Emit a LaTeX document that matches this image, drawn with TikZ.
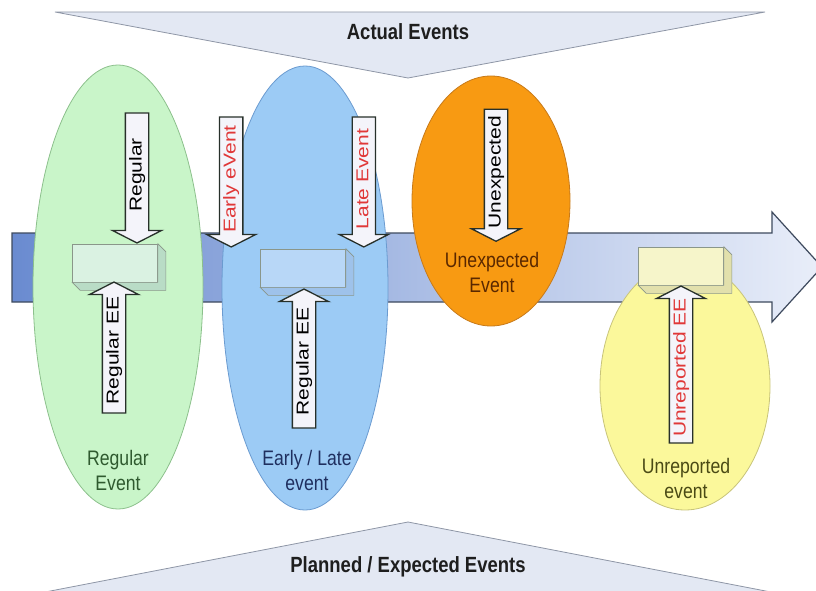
\documentclass[tikz,border=0pt]{standalone}
\usepackage{fontspec}
\setmainfont{Liberation Sans}[FakeStretch=0.84]
\newfontfamily\tagfont{Liberation Sans}
\usetikzlibrary{positioning, shapes.geometric, shapes.arrows}

\definecolor{shaftleft}{HTML}{6A8BD0}
\definecolor{shaftright}{HTML}{E9EEF9}
\definecolor{shaftline}{HTML}{3E4A5E}
\definecolor{wedgefill}{HTML}{E3E8F3}
\definecolor{wedgeline}{HTML}{8E96A6}
\definecolor{gfill}{HTML}{C9F5C9}
\definecolor{gline}{HTML}{8CC08C}
\definecolor{gbox}{HTML}{DAF2E2}
\definecolor{gside}{HTML}{B9DCC6}
\definecolor{gtext}{HTML}{2F5A2F}
\definecolor{bfill}{HTML}{9CCBF5}
\definecolor{bline}{HTML}{6B9BD0}
\definecolor{bbox}{HTML}{B8D7F7}
\definecolor{bside}{HTML}{9EC2EA}
\definecolor{btext}{HTML}{1F2F5F}
\definecolor{ofill}{HTML}{F89A12}
\definecolor{oline}{HTML}{C77A1A}
\definecolor{otext}{HTML}{5A2800}
\definecolor{yfill}{HTML}{FBF89B}
\definecolor{yline}{HTML}{C8C47A}
\definecolor{ybox}{HTML}{F6F5CA}
\definecolor{yside}{HTML}{E2E0AC}
\definecolor{ytext}{HTML}{4A4A15}
\definecolor{boxline}{HTML}{8A968A}
\definecolor{arrline}{HTML}{27302A}
\definecolor{arrfill}{HTML}{F4F4FA}
\definecolor{redtag}{HTML}{E03838}
\definecolor{titletext}{HTML}{1E1E1E}

\newcommand{\vtag}[1]{\scalebox{1}[0.82]{#1}}

\begin{document}
\begin{tikzpicture}[x=1pt, y=-1pt,
		evoval/.style={ellipse, draw, line width=0.8pt, inner sep=0pt},
		evbox/.style={rectangle, draw=boxline, line width=0.6pt, minimum width=85pt, minimum height=38pt, inner sep=0pt},
		evarrow/.style={single arrow, draw=arrline, fill=arrfill, line width=1.3pt, rotate=90, inner xsep=2pt, inner ysep=2.5pt, text height=13pt, text depth=4pt, single arrow head extend=13pt, single arrow tip angle=126, minimum width=0pt, font=\tagfont\fontsize{21}{21}\selectfont},
		downarr/.style={evarrow, shape border rotate=180},
		uparr/.style={evarrow},
		evlabel/.style={align=center, font=\fontsize{21}{25}\selectfont},
		title/.style={font=\bfseries\fontsize{22}{22}\selectfont, text=titletext},
		wedge/.style={fill=wedgefill, draw=wedgeline, line width=0.8pt}
	]
	\useasboundingbox (0,0) rectangle (816,591);

	% time line
	\path[draw=shaftline, line width=1.2pt, left color=shaftleft, right color=shaftright]
		(12,233) -- (772,233) -- (772,212) -- (822,267) -- (772,322) -- (772,302) -- (12,302) -- cycle;

	% actual / planned wedges
	\path[wedge] (55,12) -- (765,12) -- (408,78) -- cycle;
	\path[wedge] (40,593) -- (408,522) -- (776,593) -- cycle;
	\node[title] (actual) at (408,32) {Actual Events};
	\node[title] (planned) at (408,567) {Planned / Expected Events};

	% event ovals
	\node[evoval, fill=gfill, draw=gline, minimum width=170pt, minimum height=444pt] (regoval) at (118,287) {};
	\node[evoval, fill=bfill, draw=bline, minimum width=166pt, minimum height=444pt] (eloval) at (305,288) {};
	\node[evoval, fill=ofill, draw=oline, minimum width=158pt, minimum height=250pt] (ueoval) at (491,201) {};
	\node[evoval, fill=yfill, draw=yline, minimum width=170pt, minimum height=248pt] (unroval) at (685,386) {};

	% expected event boxes
	\node[evbox, fill=gbox] (regbox) at (115,263) {};
	\node[evbox, fill=bbox] (elbox) at (303,268) {};
	\node[evbox, fill=ybox] (unrbox) at (681,266) {};

	\foreach \b/\c in {regbox/gside, elbox/bside, unrbox/yside}
		\filldraw[fill=\c, draw=boxline, line width=0.6pt] (\b.north east) -- ++(8,8) -- ([shift={(8,8)}]\b.south east) -- ([shift={(8,8)}]\b.south west) -- (\b.south west) -- (\b.south east) -- cycle;

	% event arrows
	\node[downarr, anchor=tip, minimum height=130pt] (regin) at ([xshift=22pt]regbox.north) {\vtag{Regular}};
	\node[uparr, anchor=tip, minimum height=131pt] (regee) at ([xshift=-1pt, yshift=1pt]regbox.south) {\vtag{Regular EE}};
	\node[downarr, anchor=tip, minimum height=130pt, text=redtag] (early) at ([xshift=-29pt, yshift=1pt]elbox.north west) {\vtag{Early eVent}};
	\node[downarr, anchor=tip, minimum height=130pt, text=redtag] (late) at ([xshift=18pt, yshift=1pt]elbox.north east) {\vtag{Late Event}};
	\node[uparr, anchor=tip, minimum height=139pt] (elee) at ([xshift=1pt, yshift=-1pt]elbox.south) {\vtag{Regular EE}};
	\node[downarr, anchor=tip, minimum height=132pt] (unexp) at ([xshift=5pt, yshift=-41pt]ueoval.center) {\vtag{Unexpected}};
	\node[uparr, anchor=tip, minimum height=157pt, text=redtag] (unree) at (unrbox.south) {\vtag{Unreported EE}};

	% event names
	\node[evlabel, text=gtext] (regname) at (118,470) {Regular\\Event};
	\node[evlabel, text=btext] (elname) at (307,470) {Early / Late\\event};
	\node[evlabel, text=otext] (uename) at (492,272) {Unexpected\\Event};
	\node[evlabel, text=ytext] (unrname) at (686,478) {Unreported\\event};

\end{tikzpicture}
\end{document}
